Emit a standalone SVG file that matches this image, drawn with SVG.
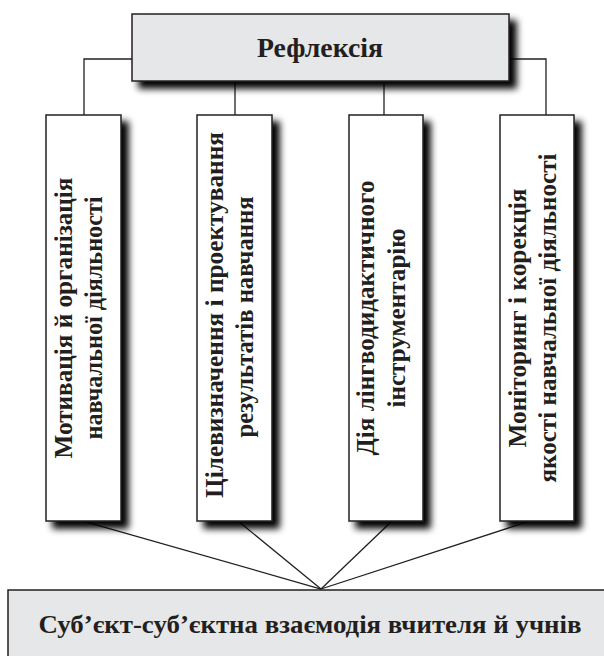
<svg xmlns="http://www.w3.org/2000/svg" width="604" height="656" viewBox="0 0 604 656">
<defs>
<filter id="sh" x="-20%" y="-20%" width="150%" height="150%">
<feGaussianBlur in="SourceAlpha" stdDeviation="3.5"/>
<feOffset dx="7" dy="7" result="b"/>
<feComponentTransfer><feFuncA type="linear" slope="1"/></feComponentTransfer>
<feMerge><feMergeNode/><feMergeNode in="SourceGraphic"/></feMerge>
</filter>
</defs>
<style>
.gray{fill:#e6e7e8;stroke:#231f20;stroke-width:1.5}
.white{fill:#ffffff;stroke:#231f20;stroke-width:1.5}
.ln{fill:none;stroke:#231f20;stroke-width:1.3}
text{font-family:"Liberation Serif","Times New Roman",serif;font-weight:bold;fill:#231f20}
.t{font-size:25px;text-anchor:middle}
.big{font-size:28px;text-anchor:middle}
.bot{font-size:25px;text-anchor:middle}
</style>
<g id="connectors">
<polyline class="ln" points="132,59 84,59 84,115"/>
<line class="ln" x1="235" y1="81" x2="235" y2="115"/>
<line class="ln" x1="384" y1="81" x2="384" y2="115"/>
<polyline class="ln" points="509,59 546,59 546,115"/>
<line class="ln" x1="83" y1="521" x2="321" y2="589"/>
<line class="ln" x1="238" y1="521" x2="321" y2="589"/>
<line class="ln" x1="392" y1="521" x2="321" y2="589"/>
<line class="ln" x1="530" y1="521" x2="321" y2="589"/>
</g>
<g id="reflexia">
<rect class="gray" x="132" y="14" width="377" height="67" filter="url(#sh)"/>
<text class="big" x="320" y="57" textLength="126" lengthAdjust="spacingAndGlyphs">Рефлексія</text>
</g>
<g id="box1">
<rect class="white" x="46" y="115" width="75" height="406" filter="url(#sh)"/>
<text class="t" transform="translate(72,318) rotate(-90)" textLength="281" lengthAdjust="spacingAndGlyphs">Мотивація й організація</text>
<text class="t" transform="translate(102,318) rotate(-90)" textLength="243" lengthAdjust="spacingAndGlyphs">навчальної діяльності</text>
</g>
<g id="box2">
<rect class="white" x="197" y="115" width="75" height="406" filter="url(#sh)"/>
<text class="t" transform="translate(223,315) rotate(-90)" textLength="366" lengthAdjust="spacingAndGlyphs">Цілевизначення і проектування</text>
<text class="t" transform="translate(253,317) rotate(-90)" textLength="241" lengthAdjust="spacingAndGlyphs">результатів навчання</text>
</g>
<g id="box3">
<rect class="white" x="349" y="115" width="74" height="406" filter="url(#sh)"/>
<text class="t" transform="translate(374,318) rotate(-90)" textLength="275" lengthAdjust="spacingAndGlyphs">Дія лінгводидактичного</text>
<text class="t" transform="translate(405,318) rotate(-90)" textLength="179" lengthAdjust="spacingAndGlyphs">інструментарію</text>
</g>
<g id="box4">
<rect class="white" x="500" y="115" width="74" height="406" filter="url(#sh)"/>
<text class="t" transform="translate(526,318) rotate(-90)" textLength="259" lengthAdjust="spacingAndGlyphs">Моніторинг і корекція</text>
<text class="t" transform="translate(556,318) rotate(-90)" textLength="329" lengthAdjust="spacingAndGlyphs">якості навчальної діяльності</text>
</g>
<g id="interaction">
<rect class="gray" x="8" y="590" width="620" height="100"/>
<text class="bot" x="310" y="633" textLength="543" lengthAdjust="spacingAndGlyphs">Суб’єкт-суб’єктна взаємодія вчителя й учнів</text>
</g>
</svg>
